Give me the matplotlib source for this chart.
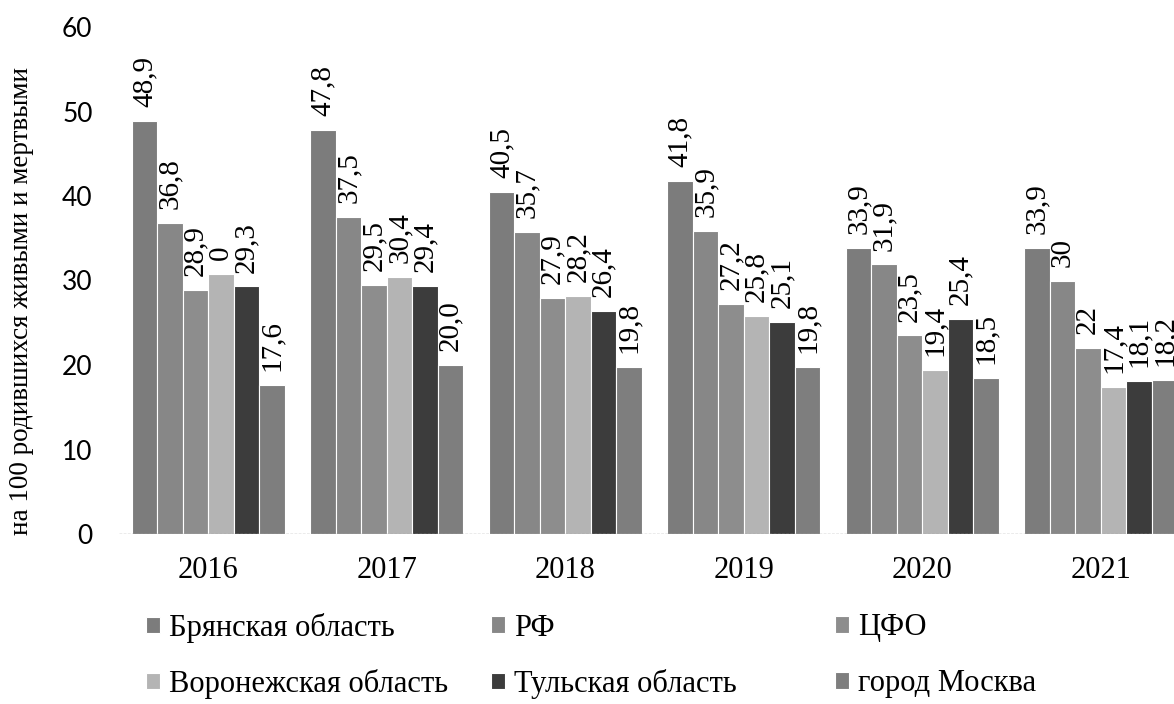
import numpy as np
import matplotlib
matplotlib.use('Agg')
import matplotlib.pyplot as plt

plt.rcParams['font.family'] = ['Liberation Serif', 'DejaVu Serif']

# Data
years = ['2016', '2017', '2018', '2019', '2020', '2021']
series = ['Брянская область', 'РФ', 'ЦФО',
          'Воронежская область', 'Тульская область', 'город Москва']
bryansk = [48.9, 47.8, 40.5, 41.8, 33.9, 33.9]
rf = [36.8, 37.5, 35.7, 35.9, 31.9, 30.0]
cfo = [28.9, 29.5, 27.9, 27.2, 23.5, 22.0]
voronezh = [30.8, 30.4, 28.2, 25.8, 19.4, 17.4]
tula = [29.3, 29.4, 26.4, 25.1, 25.4, 18.1]
moscow = [17.6, 20.0, 19.8, 19.8, 18.5, 18.2]
values = [bryansk, rf, cfo, voronezh, tula, moscow]

# labels as printed on the chart (one is partly hidden in the original)
labels = [
    ['48,9', '47,8', '40,5', '41,8', '33,9', '33,9'],
    ['36,8', '37,5', '35,7', '35,9', '31,9', '30'],
    ['28,9', '29,5', '27,9', '27,2', '23,5', '22'],
    ['0', '30,4', '28,2', '25,8', '19,4', '17,4'],
    ['29,3', '29,4', '26,4', '25,1', '25,4', '18,1'],
    ['17,6', '20,0', '19,8', '19,8', '18,5', '18,2'],
]
colors = ['#7c7c7c', '#878787', '#8d8d8d', '#b4b4b4', '#3c3c3c', '#7e7e7e']

fig = plt.figure(figsize=(11.74, 7.04), dpi=100)
# axes deliberately runs past the right edge, as in the original
ax = fig.add_axes([119 / 1174, 1 - 534 / 704, 1071 / 1174, 507 / 704])

x = np.arange(len(years))
w = 1 / 7
for i, (vals, col, name) in enumerate(zip(values, colors, series)):
    pos = x + (i - 2.5) * w
    bars = ax.bar(pos, vals, width=w, color=col, edgecolor='white',
                  linewidth=0.8, label=name)
    for b, lab in zip(bars, labels[i]):
        ax.annotate(lab, (b.get_x() + b.get_width() / 2, b.get_height()),
                    xytext=(0, 10), textcoords='offset points',
                    rotation=90, ha='center', va='bottom', fontsize=21)

ax.axhline(0, color='#999999', linewidth=1, linestyle=(0, (2, 1)))
ax.set_xlim(-0.5, 5.5)
ax.set_ylim(0, 60)
ax.set_yticks(range(0, 61, 10))
ax.set_xticks(x)
ax.set_xticklabels(years, fontsize=22)
ax.tick_params(axis='both', length=0)
ax.tick_params(axis='y', pad=19)
ax.tick_params(axis='x', pad=16)
for t in ax.get_yticklabels():
    t.set_fontfamily(['Lato', 'DejaVu Sans'])
    t.set_fontsize(19)
for s in ax.spines.values():
    s.set_visible(False)

ax.set_ylabel('на 100 родившихся живыми и мертвыми', fontsize=19.5)
ax.yaxis.set_label_coords(-0.079, 0.46)

# legend: each entry placed where it sits in the original
handles, names = ax.get_legend_handles_labels()
col_x = [146, 491, 835]
row_y = [628, 684]
for k in range(6):
    fig.legend([handles[k]], [names[k]], loc='center left',
               bbox_to_anchor=(col_x[k % 3] / 1174, 1 - row_y[k // 3] / 704),
               frameon=False, fontsize=22, handlelength=0.45, handleheight=0.45,
               handletextpad=0.3, borderpad=0, borderaxespad=0)

fig.savefig('out.png', dpi=100)
